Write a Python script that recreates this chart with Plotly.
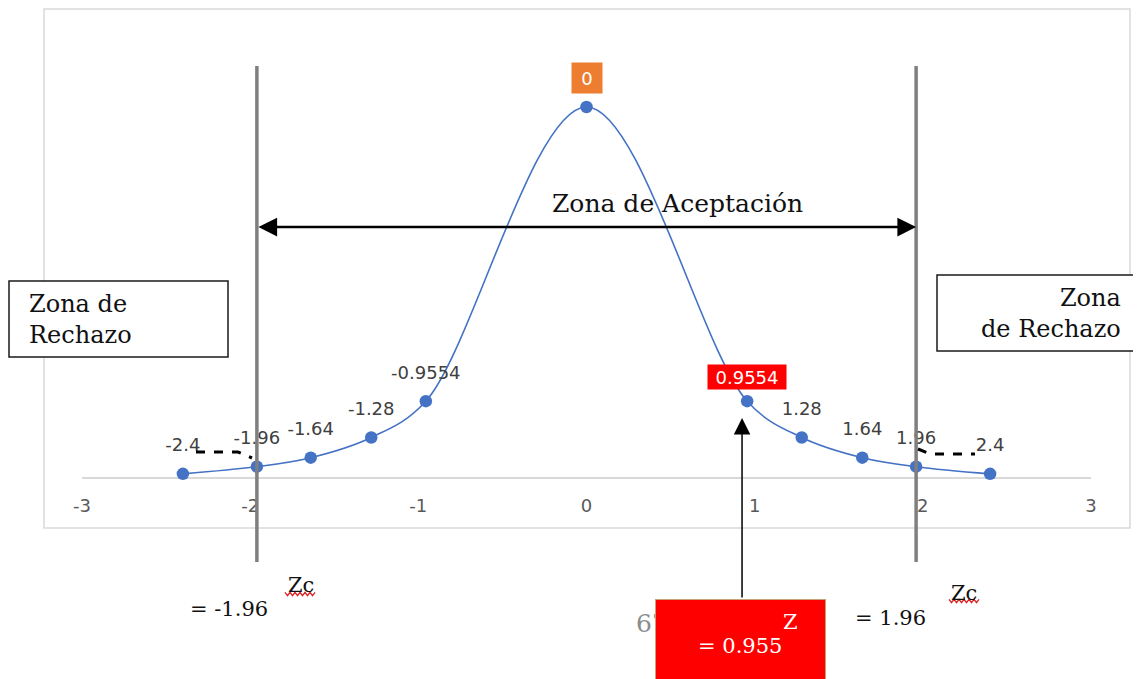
import plotly.graph_objects as go

# ---- data ----
z_values = [-2.4, -1.96, -1.64, -1.28, -0.9554, 0, 0.9554, 1.28, 1.64, 1.96, 2.4]
density = [0.0045, 0.0122, 0.0219, 0.0437, 0.0828, 0.40, 0.0828, 0.0437, 0.0219, 0.0122, 0.0045]
point_labels = ["-2.4", "-1.96", "-1.64", "-1.28", "-0.9554", "", "", "1.28", "1.64", "1.96", "2.4"]
tick_values = [-3, -2, -1, 0, 1, 2, 3]
tick_labels = ["-3", "-2", "-1", "0", "1", "2", "3"]
z_critical = [-1.96, 1.96]
z_stat = 0.955

# ---- geometry helpers (screen pixels -> paper) ----
OFF = 8                      # page body margin
W, H = 1133, 671
ML, MR = 74, 50              # plot area spans screen x 82..1091
PLOT_W = W - ML - MR


def px(x):
    return (x - OFF - ML) / PLOT_W


def py(y):
    return 1 - (y - OFF) / H


BASE_PX = 478.0 - OFF
PEAK_PX = 107.0 - OFF
scale = (BASE_PX - PEAK_PX) / max(density)
y_range = [-(H - BASE_PX) / scale, BASE_PX / scale]

BLUE = "#4472C4"
SERIF = "DejaVu Serif"
SANS = "DejaVu Sans"

fig = go.Figure()
fig.add_trace(go.Scatter(
    x=z_values, y=density,
    mode="lines+markers",
    line=dict(color=BLUE, width=1.6, shape="spline", smoothing=1.0),
    marker=dict(color=BLUE, size=12.5),
    hoverinfo="skip", showlegend=False,
))
fig.add_trace(go.Scatter(
    x=z_values, y=density,
    mode="markers+text",
    marker=dict(size=27, opacity=0),
    text=point_labels,
    textposition="top center",
    textfont=dict(family=SANS, size=18, color="#404040"),
    cliponaxis=False, hoverinfo="skip", showlegend=False,
))

shapes = []
# chart border
shapes.append(dict(type="rect", xref="paper", yref="paper",
                   x0=px(44), x1=px(1130), y0=py(9), y1=py(528),
                   line=dict(color="#d9d9d9", width=1.5), layer="below"))
# critical value vertical lines
for zc in z_critical:
    shapes.append(dict(type="line", xref="x", yref="paper",
                       x0=zc, x1=zc, y0=py(66), y1=py(562),
                       line=dict(color="#7f7f7f", width=3.5)))
# rejection boxes
shapes.append(dict(type="rect", xref="paper", yref="paper",
                   x0=px(9), x1=px(228), y0=py(357), y1=py(281),
                   line=dict(color="#1a1a1a", width=1.5), fillcolor="white"))
shapes.append(dict(type="rect", xref="paper", yref="paper",
                   x0=px(937), x1=px(1160), y0=py(351), y1=py(275),
                   line=dict(color="#1a1a1a", width=1.5), fillcolor="white"))


def path_from(points):
    return "M " + " L ".join(f"{px(a):.5f},{py(b):.5f}" for a, b in points)


# leader lines (dashed)
shapes.append(dict(type="path", xref="paper", yref="paper",
                   path=path_from([(196, 452), (238, 452), (252, 458)]),
                   line=dict(color="black", width=3, dash="dash")))
shapes.append(dict(type="path", xref="paper", yref="paper",
                   path=path_from([(918, 449), (930, 454), (975, 454)]),
                   line=dict(color="black", width=3, dash="dash")))


def wavy(x0, x1, y):
    pts = []
    x = x0
    up = True
    while x <= x1:
        pts.append((x, y - 1.6 if up else y + 1.6))
        up = not up
        x += 2.5
    return pts


shapes.append(dict(type="path", xref="paper", yref="paper",
                   path=path_from(wavy(285, 316, 594)),
                   line=dict(color="#e02020", width=1.3)))
shapes.append(dict(type="path", xref="paper", yref="paper",
                   path=path_from(wavy(949, 980, 601)),
                   line=dict(color="#e02020", width=1.3)))

ann = []


def txt(x, y, text, size, color="#111111", xanchor="center", align="center", family=SERIF):
    ann.append(dict(xref="paper", yref="paper", x=px(x), y=py(y),
                    xanchor=xanchor, yanchor="middle", align=align,
                    text=text, showarrow=False,
                    font=dict(family=family, size=size, color=color)))


# acceptance zone double arrow
ann.append(dict(xref="x", yref="paper", x=z_critical[1], y=py(227),
                axref="x", ayref="pixel", ax=z_critical[0], ay=0,
                text="", showarrow=True, arrowside="end+start",
                arrowhead=2, arrowsize=1.5, arrowwidth=2.5, arrowcolor="black"))
txt(677, 204, "Zona de Aceptación", 25)
txt(27, 319, "Zona de<br>Rechazo", 24, xanchor="left", align="left")
txt(1123, 313, "Zona<br>de Rechazo", 24, xanchor="right", align="right")

# highlighted data labels
ann.append(dict(xref="x", yref="y", x=z_values[5], y=density[5], yshift=29,
                xanchor="center", yanchor="middle",
                text="0", showarrow=False, bgcolor="#ED7D31",
                width=24, height=24, borderpad=3,
                font=dict(family=SANS, size=18, color="white")))
ann.append(dict(xref="x", yref="y", x=z_values[6], y=density[6], yshift=24,
                xanchor="center", yanchor="middle",
                text="0.9554", showarrow=False, bgcolor="#FF0000",
                width=74, height=20, borderpad=2,
                font=dict(family=SANS, size=18, color="white")))
# arrow to test statistic
ann.append(dict(xref="x", yref="paper", x=0.925, y=py(418),
                ax=0, ay=181, text="", showarrow=True,
                arrowhead=2, arrowsize=2.2, arrowwidth=1.5, arrowcolor="black"))
# Zc labels
txt(286, 585, "Zc", 21, xanchor="left")
txt(188, 609, "= -1.96", 21, xanchor="left")
txt(949, 593, "Zc", 21, xanchor="left")
txt(853, 618, "= 1.96", 21, xanchor="left")
# partially hidden page number
txt(634, 623, "67", 25, color="#8c8c8c", xanchor="left")
# red Z box
ann.append(dict(xref="paper", yref="paper", x=px(655), y=py(599),
                xanchor="left", yanchor="top", text=" ", showarrow=False,
                bgcolor="#FF0000", bordercolor="#c8a27a", borderwidth=1, borderpad=0,
                width=169, height=110))
txt(790, 622, "Z", 21, color="white")
txt(740, 646, "= " + str(z_stat), 21, color="white")

fig.update_layout(
    width=W, height=H,
    margin=dict(l=ML, r=MR, t=0, b=0),
    paper_bgcolor="white", plot_bgcolor="white",
    xaxis=dict(range=[-3, 3], tickvals=tick_values, ticktext=tick_labels,
               anchor="free", position=(H - BASE_PX) / H,
               showgrid=False, zeroline=False, layer="below traces",
               showline=True, linecolor="#d9d9d9", linewidth=2,
               ticks="outside", ticklen=11, tickcolor="rgba(0,0,0,0)",
               tickfont=dict(family=SANS, size=18, color="#595959"),
               fixedrange=True),
    yaxis=dict(range=y_range, visible=False, fixedrange=True),
    shapes=shapes,
    annotations=ann,
    showlegend=False,
)

fig.write_html("out.html")
